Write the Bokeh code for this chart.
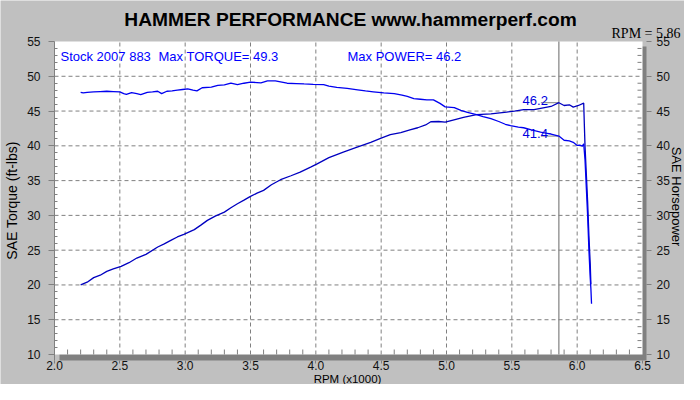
import numpy as np
from bokeh.plotting import figure
from bokeh.models import Range1d, LinearAxis, Label, FixedTicker
from bokeh.embed import file_html
from bokeh.resources import INLINE

# ---------------- data ----------------
title_text = "HAMMER PERFORMANCE www.hammerperf.com"
x_title = "RPM (x1000)"
y_title_left = "SAE Torque (ft-lbs)"
y_title_right = "SAE Horsepower"
cursor_rpm = 5.86
cursor_torque = 41.4
cursor_hp = 46.2
max_torque = 49.3
max_power = 46.2
run_name = "Stock 2007 883"

x_ticks = [2.0, 2.5, 3.0, 3.5, 4.0, 4.5, 5.0, 5.5, 6.0, 6.5]
x_tick_labels = ["2.0", "2.5", "3.0", "3.5", "4.0", "4.5", "5.0", "5.5", "6.0", "6.5"]
y_ticks = [10, 15, 20, 25, 30, 35, 40, 45, 50, 55]

torque_rpm = [2.20, 2.22, 2.25, 2.30, 2.35, 2.40, 2.45, 2.50, 2.53, 2.55, 2.59, 2.63,
              2.66, 2.71, 2.75, 2.79, 2.82, 2.86, 2.90, 2.94, 2.98, 3.02, 3.06, 3.09,
              3.13, 3.20, 3.25, 3.30, 3.35, 3.40, 3.45, 3.50, 3.55, 3.58, 3.63, 3.69,
              3.73, 3.78, 3.85, 3.91, 3.98, 4.06, 4.10, 4.16, 4.24, 4.32, 4.38, 4.44,
              4.52, 4.60, 4.66, 4.70, 4.75, 4.80, 4.85, 4.90, 4.95, 4.99, 5.06, 5.11,
              5.16, 5.23, 5.28, 5.34, 5.40, 5.45, 5.49, 5.55, 5.59, 5.65, 5.72, 5.77,
              5.80, 5.86, 5.90, 5.94, 5.97, 6.00, 6.02, 6.04, 6.05, 6.06, 6.07, 6.08,
              6.09, 6.10, 6.105, 6.11]
torque = [47.7, 47.6, 47.7, 47.75, 47.8, 47.85, 47.8, 47.75, 47.5, 47.4, 47.65, 47.5,
          47.35, 47.7, 47.75, 47.85, 47.5, 47.85, 47.9, 48.0, 48.1, 48.2, 48.0, 47.9,
          48.35, 48.45, 48.7, 48.75, 49.0, 48.8, 49.0, 49.15, 49.1, 49.05, 49.35, 49.35,
          49.2, 49.0, 48.95, 48.9, 48.85, 48.8, 48.6, 48.4, 48.25, 48.06, 47.9, 47.77,
          47.6, 47.5, 47.3, 47.1, 46.8, 46.7, 46.6, 46.6, 46.1, 45.6, 45.5, 45.1,
          44.8, 44.5, 44.2, 43.9, 43.5, 43.1, 42.9, 42.7, 42.6, 42.3, 41.97, 41.8,
          41.7, 41.4, 40.8, 40.7, 40.5, 40.06, 40.1, 39.96, 40.3, 38.0, 34.0, 30.0,
          25.0, 21.0, 19.5, 17.3]

hp_rpm = [2.20, 2.25, 2.30, 2.35, 2.40, 2.45, 2.51, 2.57, 2.63, 2.70, 2.79, 2.84,
          2.89, 2.94, 2.99, 3.07, 3.12, 3.17, 3.23, 3.30, 3.35, 3.40, 3.45, 3.50,
          3.55, 3.60, 3.66, 3.73, 3.81, 3.88, 3.96, 4.01, 4.10, 4.21, 4.30, 4.42,
          4.50, 4.57, 4.65, 4.72, 4.78, 4.84, 4.88, 4.94, 4.99, 5.05, 5.13, 5.23,
          5.34, 5.46, 5.52, 5.59, 5.67, 5.72, 5.80, 5.86, 5.90, 5.94, 5.97, 6.01,
          6.05, 6.055, 6.06, 6.07, 6.08, 6.09, 6.10, 6.105]
hp = [20.0, 20.4, 21.05, 21.4, 21.95, 22.3, 22.67, 23.2, 23.87, 24.4, 25.45, 25.9,
      26.4, 26.9, 27.27, 27.95, 28.6, 29.28, 29.9, 30.47, 31.1, 31.68, 32.2, 32.73,
      33.2, 33.6, 34.4, 35.13, 35.7, 36.22, 36.94, 37.4, 38.3, 39.1, 39.7, 40.5,
      41.1, 41.6, 41.9, 42.3, 42.6, 43.0, 43.46, 43.5, 43.4, 43.7, 44.1, 44.5,
      44.6, 44.85, 45.0, 45.2, 45.2, 45.4, 45.66, 46.2, 45.8, 45.9, 45.56, 45.8,
      46.14, 43.0, 40.0, 36.0, 32.0, 27.0, 23.0, 20.1]

# ---------------- layout helpers (canvas pixel -> data) ----------------
W, H = 684, 384
x0, x_plot_end = x_ticks[0], x_ticks[-1]
y0, y_plot_end = y_ticks[0], y_ticks[-1]
dx = (x_plot_end - x0) / 588.0          # data units per pixel (x)
dy = (y_plot_end - y0) / 313.0          # data units per pixel (y)

def px(cx):
    return x0 + (cx - 54) * dx

def py(cy):
    return y_plot_end - (cy - 41) * dy

x_end = px(646)       # right edge of shadow / right axis
y_start = py(360)     # bottom edge of shadow / bottom axis

BG = "#C0C0C0"
GRAY = "#808080"
FONT = "Liberation Sans"

p = figure(width=W, height=H, x_range=Range1d(px(0), px(W)), y_range=Range1d(py(H), py(0)),
           output_backend="svg", toolbar_location=None, title=None,
           x_axis_location=None, y_axis_location=None,
           min_border_left=0, min_border_right=0, min_border_top=0, min_border_bottom=0,
           background_fill_color=BG, border_fill_color=BG, outline_line_color=None)
p.xgrid.visible = False
p.ygrid.visible = False

# shadow + white plotting area
sh = p.quad(left=[x0 + 5 * dx], right=[x_end], bottom=[y_start], top=[y_plot_end - 5 * dy],
            fill_color=GRAY, line_color=None)
sh.level = "image"
wh = p.quad(left=[x0], right=[x_plot_end], bottom=[y0], top=[y_plot_end],
            fill_color="white", line_color=None)
wh.level = "image"

# dashed grid inside the white area
gx = x_ticks[1:-1]
gy = y_ticks[1:-1]
p.segment(x0=gx, y0=[y0] * len(gx), x1=gx, y1=[y_plot_end] * len(gx),
          line_color=GRAY, line_dash="4 3", line_width=1)
p.segment(x0=[x0] * len(gy), y0=gy, x1=[x_plot_end] * len(gy), y1=gy,
          line_color=GRAY, line_dash="4 3", line_width=1)

# axes (fixed inside the full-canvas frame)
minor_y = [v for v in range(y0, y_plot_end + 1) if v % 5 != 0]
minor_x = [round(x0 + 0.1 * i, 2) for i in range(1, 45) if i % 5 != 0]

xa = LinearAxis(ticker=FixedTicker(ticks=x_ticks), fixed_location=y_start)
xa.major_label_overrides = {t: l for t, l in zip(x_ticks, x_tick_labels)}
ya = LinearAxis(ticker=FixedTicker(ticks=y_ticks, minor_ticks=minor_y), fixed_location=x0)
ra = LinearAxis(ticker=FixedTicker(ticks=y_ticks), fixed_location=x_end)
p.add_layout(xa, "below")
p.add_layout(ya, "left")
p.add_layout(ra, "right")

for ax in (xa, ya, ra):
    ax.axis_line_color = None
    ax.major_tick_line_color = GRAY
    ax.minor_tick_line_color = GRAY
    ax.major_tick_in = 0
    ax.major_label_text_font = FONT
    ax.major_label_text_font_size = "12px"
    ax.major_label_text_color = "#111111"
    ax.minor_tick_out = 0
    ax.minor_tick_in = 0

xa.major_tick_out = 3
xa.major_label_standoff = -3
ya.major_tick_out = 6
ya.major_label_standoff = 8
ya.minor_tick_in = 3
ra.major_tick_out = 5
ra.major_label_standoff = 5

# left axis line
p.segment(x0=[x0], y0=[y_start], x1=[x0], y1=[y_plot_end], line_color=GRAY, line_width=1)

# inner minor ticks on bottom and right edges
p.segment(x0=minor_x, y0=[y0] * len(minor_x), x1=minor_x, y1=[y0 + 5 * dy] * len(minor_x),
          line_color=GRAY, line_width=1)
p.segment(x0=[x_plot_end - 5 * dx] * len(minor_y), y0=minor_y,
          x1=[x_plot_end - 1 * dx] * len(minor_y), y1=minor_y, line_color=GRAY, line_width=1)

# cursor line and markers
p.segment(x0=[cursor_rpm], y0=[y0], x1=[cursor_rpm], y1=[y_plot_end], line_color=GRAY, line_width=1.2)
p.segment(x0=[cursor_rpm - 18 * dx] * 2, y0=[cursor_hp, cursor_torque],
          x1=[cursor_rpm] * 2, y1=[cursor_hp, cursor_torque], line_color=GRAY, line_width=1)

# curves
p.line(hp_rpm, hp, line_color="#0000C0", line_width=1.3)
p.line(torque_rpm, torque, line_color="#0000F0", line_width=1.3)

def add_label(x, y, text, size, color="#000000", align="left", baseline="alphabetic",
              font=FONT, style="normal", angle=0.0):
    p.add_layout(Label(x=x, y=y, text=text, text_font=font, text_font_size=size,
                       text_color=color, text_align=align, text_baseline=baseline,
                       text_font_style=style, angle=angle))

# cursor value labels
add_label(cursor_rpm - 11 * dx, cursor_hp + 2.5 * dy, f"{cursor_hp}", "13px", "#0000E0", align="right")
add_label(cursor_rpm - 11 * dx, cursor_torque + 2.5 * dy, f"{cursor_torque}", "13px", "#0000E0", align="right")

# header texts inside plot
add_label(px(60), py(55.5), run_name, "13px", "#0000FF")
add_label(px(158), py(55.5), f"Max TORQUE= {max_torque}", "13px", "#0000FF")
add_label(px(347), py(55.5), f"Max POWER= {max_power}", "13px", "#0000FF")

# titles
add_label(px(350), py(18.5), title_text, "19.2px", "#000000", align="center", style="bold")
add_label(px(680), py(33.3), f"RPM = {cursor_rpm}", "14px", "#000000", align="right",
          font="Liberation Serif")
add_label(px(347), py(378.5), x_title, "11.5px", "#000000", align="center")
add_label(px(11.5), py(200), y_title_left, "14px", "#000000", align="center", baseline="middle",
          angle=np.pi / 2)
add_label(px(676), py(196), y_title_right, "13px", "#000000", align="center", baseline="middle",
          angle=-np.pi / 2)

open("out.html", "w").write(file_html(p, INLINE))
